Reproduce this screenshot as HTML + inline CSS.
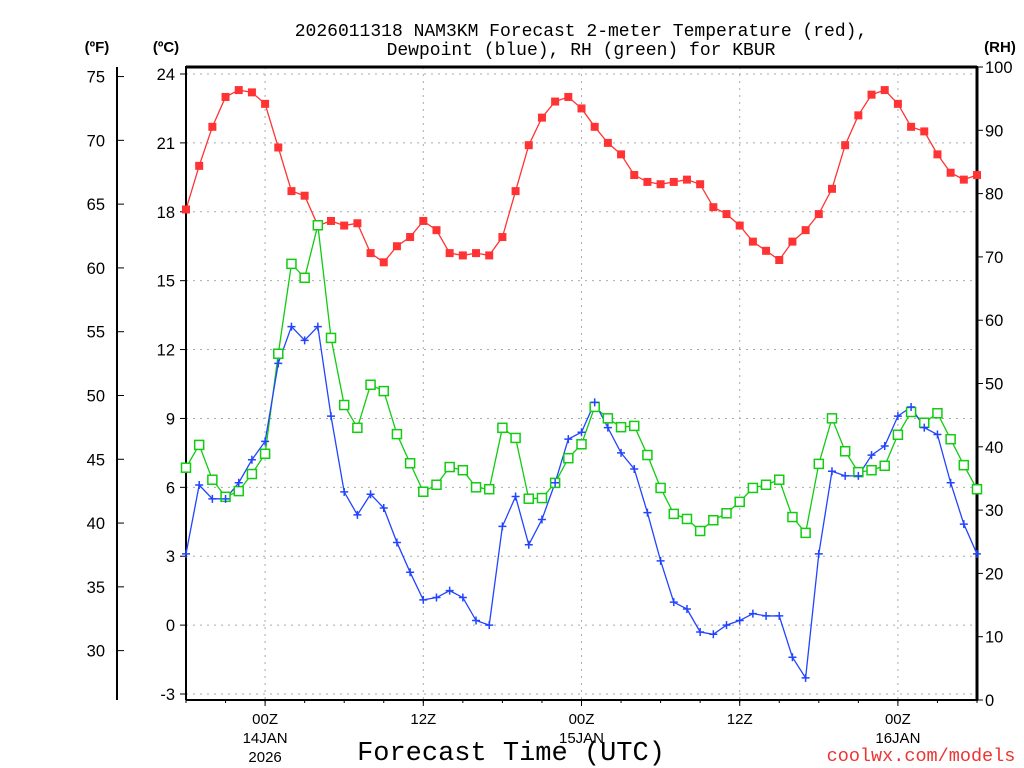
<!DOCTYPE html>
<html><head><meta charset="utf-8"><style>
html,body{margin:0;padding:0;background:#fff;}
svg{display:block;font-family:"Liberation Sans",sans-serif;}
</style></head><body>
<svg id="chart" width="1024" height="768" viewBox="0 0 1024 768" xmlns="http://www.w3.org/2000/svg">
<text x="581" y="36" font-size="18" text-anchor="middle" font-family="Liberation Mono, monospace">2026011318 NAM3KM Forecast 2-meter Temperature (red),</text>
<text x="581" y="55" font-size="18" text-anchor="middle" font-family="Liberation Mono, monospace">Dewpoint (blue), RH (green) for KBUR</text>
<text x="97" y="52" font-size="15" font-weight="bold" text-anchor="middle">(ºF)</text>
<text x="166" y="52" font-size="15" font-weight="bold" text-anchor="middle">(ºC)</text>
<text x="1000" y="52" font-size="15" font-weight="bold" text-anchor="middle">(RH)</text>
<g id="grid"></g><g id="axes"></g><g id="series"></g>
<text x="511" y="760" font-size="27" text-anchor="middle" font-family="Liberation Mono, monospace">Forecast Time (UTC)</text>
<text x="921" y="761" font-size="18.5" fill="#e33" text-anchor="middle" font-family="Liberation Mono, monospace">coolwx.com/models</text>
</svg>
<script>
const temps=[18.1,20.0,21.7,23.0,23.3,23.2,22.7,20.8,18.9,18.7,17.4,17.6,17.4,17.5,16.2,15.8,16.5,16.9,17.6,17.2,16.2,16.1,16.2,16.1,16.9,18.9,20.9,22.1,22.8,23.0,22.5,21.7,21.0,20.5,19.6,19.3,19.2,19.3,19.4,19.2,18.2,17.9,17.4,16.7,16.3,15.9,16.7,17.2,17.9,19.0,20.9,22.2,23.1,23.3,22.7,21.7,21.5,20.5,19.7,19.4,19.6];
const dewpoints=[3.1,6.1,5.5,5.5,6.2,7.2,8.0,11.4,13.0,12.4,13.0,9.1,5.8,4.8,5.7,5.1,3.6,2.3,1.1,1.2,1.5,1.2,0.2,0.0,4.3,5.6,3.5,4.6,6.2,8.1,8.4,9.7,8.6,7.5,6.8,4.9,2.8,1.0,0.7,-0.3,-0.4,0.0,0.2,0.5,0.4,0.4,-1.4,-2.3,3.1,6.7,6.5,6.5,7.4,7.8,9.1,9.5,8.6,8.3,6.2,4.4,3.1];
const rh=[36.7,40.3,34.8,32.1,33.0,35.7,38.9,54.7,68.9,66.7,75.0,57.2,46.6,43.0,49.8,48.8,42.0,37.4,32.9,34.0,36.8,36.3,33.6,33.3,43.0,41.4,31.8,31.9,34.3,38.2,40.4,46.3,44.5,43.1,43.3,38.7,33.5,29.4,28.6,26.7,28.4,29.5,31.3,33.5,34.0,34.8,28.9,26.4,37.3,44.5,39.3,36.0,36.3,37.0,41.9,45.5,43.8,45.3,41.2,37.1,33.3];
const celsiusTicks=[-3,0,3,6,9,12,15,18,21,24];
const fahrenheitTicks=[30,35,40,45,50,55,60,65,70,75];
const rhTicks=[0,10,20,30,40,50,60,70,80,90,100];
const timeTickHours=[6,18,30,42,54];
const timeTickLabels=[["00Z","14JAN","2026"],["12Z"],["00Z","15JAN"],["12Z"],["00Z","16JAN"]];

const NS="http://www.w3.org/2000/svg";
const X0=186,X1=977,Y0=67,Y1=700,NH=60;
const xOf=h=>X0+(X1-X0)*h/NH;
const yC=c=>74+(24-c)*(694-74)/27;
const yF=f=>yC((f-32)/1.8);
const yR=r=>Y1-(Y1-Y0)*r/100;
function mk(tag,attrs,parent,text){const e=document.createElementNS(NS,tag);for(const k in attrs)e.setAttribute(k,attrs[k]);if(text!==undefined)e.textContent=text;parent.appendChild(e);return e;}
const grid=document.getElementById('grid'),axes=document.getElementById('axes'),series=document.getElementById('series');

celsiusTicks.forEach(c=>{
  const y=yC(c);
  const g=mk('line',{x1:X0,x2:X1,y1:y,y2:y,stroke:'#aaa','stroke-dasharray':'2,5'},grid);
  
  
  const t=mk('line',{x1:X0-6,x2:X0,y1:y,y2:y,stroke:'#000'},axes);
  
  
  const l=mk('text',{x:175,y:y+6,'font-size':16.5,'text-anchor':'end'},axes,String(c));
  
  
});
timeTickHours.forEach((h,i)=>{
  const x=xOf(h);
  const g=mk('line',{x1:x,x2:x,y1:Y0,y2:Y1,stroke:'#aaa','stroke-dasharray':'2,5'},grid);
  
  
  const t=mk('line',{x1:x,x2:x,y1:Y1,y2:Y1+6,stroke:'#000'},axes);
  
  
  timeTickLabels[i].forEach((s,j)=>{
    const l=mk('text',{x:x,y:724+j*19,'font-size':15,'text-anchor':'middle'},axes,s);
    
    
  });
});
for(let h=0;h<=NH;h+=3){const t=mk('line',{x1:xOf(h),x2:xOf(h),y1:Y1,y2:Y1+3,stroke:'#000'},axes);}
const fa=mk('line',{x1:117,x2:117,y1:Y0,y2:Y1,stroke:'#000','stroke-width':2},axes);


fahrenheitTicks.forEach(f=>{
  const y=yF(f);
  const t=mk('line',{x1:117,x2:124,y1:y,y2:y,stroke:'#000'},axes);
  
  
  const l=mk('text',{x:105,y:y+6,'font-size':16.5,'text-anchor':'end'},axes,String(f));
  
  
});
rhTicks.forEach(r=>{
  const y=yR(r);
  const t=mk('line',{x1:X1,x2:X1+6,y1:y,y2:y,stroke:'#000'},axes);
  
  
  const l=mk('text',{x:985,y:y+6,'font-size':16.5,'text-anchor':'start'},axes,String(r));
  
  
});
const frame=mk('path',{d:`M${X0},${Y1} L${X0},${Y0} L${X1},${Y0} L${X1},${Y1} L${X0},${Y1}`,fill:'none',stroke:'#000','stroke-width':2},axes);


mk('line',{x1:X0,x2:X1,y1:Y0,y2:Y0,stroke:'#000','stroke-width':3},axes);
mk('line',{x1:X1,x2:X1,y1:Y0,y2:Y1,stroke:'#000','stroke-width':3},axes);

function line(vals,yfn,color,name){
  const p=mk('polyline',{points:vals.map((v,i)=>xOf(i)+','+yfn(v)).join(' '),fill:'none',stroke:color,'stroke-width':1.3},series);
  
  
}
line(temps,yC,'#f33','temperature-line');
temps.forEach((v,i)=>{const r=mk('rect',{x:xOf(i)-4,y:yC(v)-4,width:8,height:8,fill:'#f33'},series);});
line(rh,yR,'#1c1','rh-line');
line(dewpoints,yC,'#2244ff','dewpoint-line');
rh.forEach((v,i)=>{const r=mk('rect',{x:xOf(i)-4.5,y:yR(v)-4.5,width:9,height:9,fill:'#fff',stroke:'#1c1','stroke-width':1.5},series);});
dewpoints.forEach((v,i)=>{const x=xOf(i),y=yC(v);const p=mk('path',{d:`M${x-4},${y}H${x+4}M${x},${y-4}V${y+4}`,stroke:'#2244ff','stroke-width':1.5},series);});
</script>
</body></html>
